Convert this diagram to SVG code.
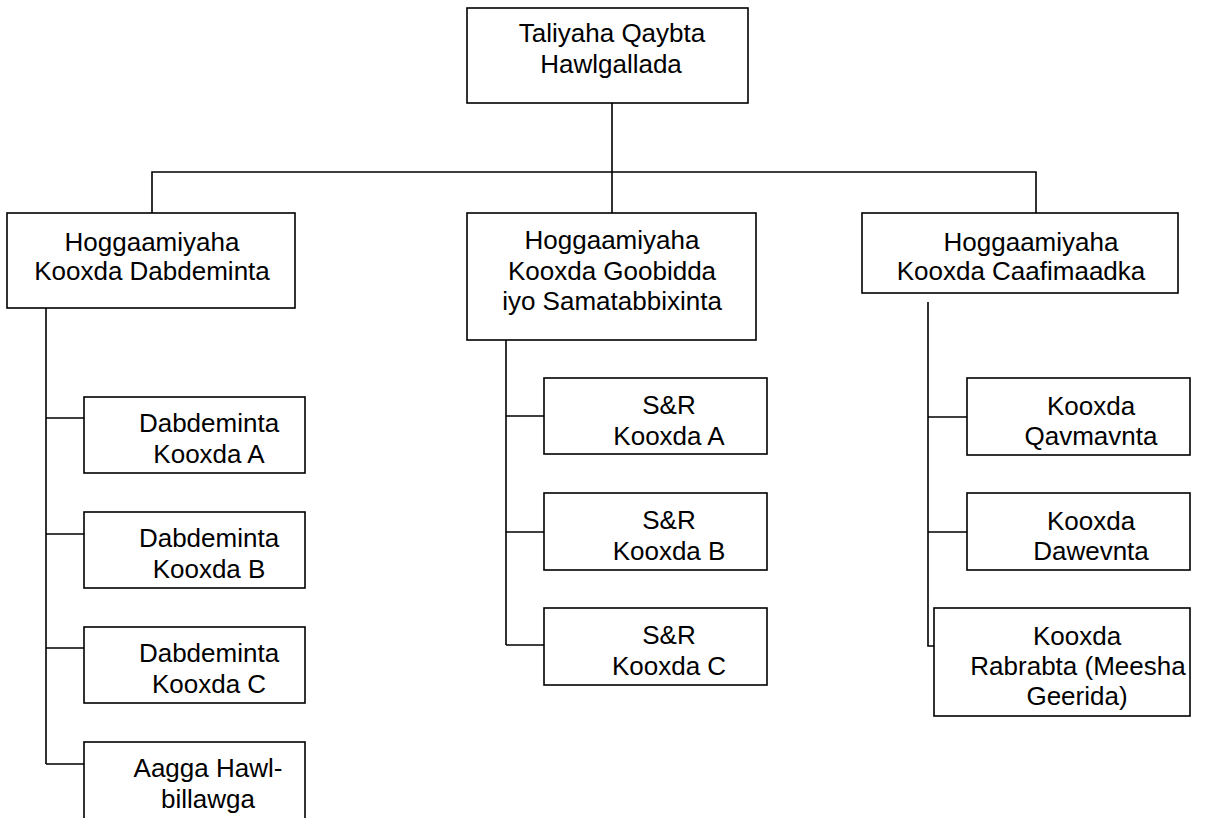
<svg xmlns="http://www.w3.org/2000/svg" width="1214" height="818" viewBox="0 0 1214 818">
<style>
rect{fill:#fff;stroke:#000;stroke-width:1.6}
text{font-family:"Liberation Sans",Arial,sans-serif;font-size:26px;fill:#000;text-anchor:middle}
#connectors path{fill:none;stroke:#000;stroke-width:1.6}
</style>
<rect x="0" y="0" width="1214" height="818" style="stroke:none"/>
<g id="connectors">
<path d="M612 103V172M152 213V172H1036V213M612 172V213"/>
<path d="M46 308V764M46 418H84M46 534H84M46 648H84M46 764H84"/>
<path d="M506 340V645M506 416H544M506 532H544M506 645H544"/>
<path d="M928 302V646H934M928 417H967M928 532H967"/>
</g>
<g id="top"><rect x="467" y="8" width="281" height="95"/><text x="612" y="42">Taliyaha Qaybta</text><text x="611" y="73">Hawlgallada</text></g>
<g id="lead-dab"><rect x="7" y="213" width="288" height="95"/><text x="152" y="251">Hoggaamiyaha</text><text x="152" y="280">Kooxda Dabdeminta</text></g>
<g id="lead-sr"><rect x="467" y="213" width="289" height="127"/><text x="612" y="249">Hoggaamiyaha</text><text x="612" y="280">Kooxda Goobidda</text><text x="612" y="310">iyo Samatabbixinta</text></g>
<g id="lead-med"><rect x="862" y="213" width="316" height="80"/><text x="1031" y="251">Hoggaamiyaha</text><text x="1021" y="280">Kooxda Caafimaadka</text></g>
<g id="dab-a"><rect x="84" y="397" width="221" height="76"/><text x="209" y="432">Dabdeminta</text><text x="209" y="463">Kooxda A</text></g>
<g id="dab-b"><rect x="84" y="512" width="221" height="76"/><text x="209" y="547">Dabdeminta</text><text x="209" y="578">Kooxda B</text></g>
<g id="dab-c"><rect x="84" y="627" width="221" height="76"/><text x="209" y="662">Dabdeminta</text><text x="209" y="693">Kooxda C</text></g>
<g id="aagga"><rect x="84" y="742" width="221" height="90"/><text x="208" y="777">Aagga Hawl-</text><text x="208" y="808">billawga</text></g>
<g id="sr-a"><rect x="544" y="378" width="223" height="76"/><text x="669" y="414">S&amp;R</text><text x="669" y="445">Kooxda A</text></g>
<g id="sr-b"><rect x="544" y="493" width="223" height="77"/><text x="669" y="529">S&amp;R</text><text x="669" y="560">Kooxda B</text></g>
<g id="sr-c"><rect x="544" y="608" width="223" height="77"/><text x="669" y="644">S&amp;R</text><text x="669" y="675">Kooxda C</text></g>
<g id="med-a"><rect x="967" y="378" width="223" height="77"/><text x="1091" y="415">Kooxda</text><text x="1091" y="445">Qavmavnta</text></g>
<g id="med-b"><rect x="967" y="493" width="223" height="77"/><text x="1091" y="530">Kooxda</text><text x="1091" y="560">Dawevnta</text></g>
<g id="med-c"><rect x="934" y="608" width="256" height="108"/><text x="1077" y="645">Kooxda</text><text x="1078" y="675">Rabrabta (Meesha</text><text x="1077" y="705">Geerida)</text></g>
</svg>
